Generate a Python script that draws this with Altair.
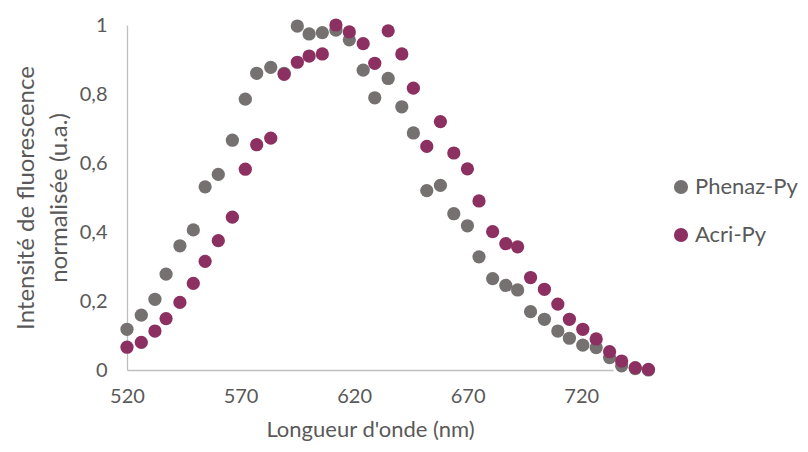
import altair as alt
import pandas as pd

wavelength = [520.0, 526.3, 532.3, 537.2, 543.3, 549.2, 554.4, 560.2, 566.4, 572.1,
              577.1, 583.3, 589.2, 595.0, 600.2, 606.0, 612.0, 617.9, 624.0, 629.1,
              635.0, 641.0, 646.1, 652.0, 658.0, 663.9, 669.9, 675.0, 681.0, 686.8,
              692.0, 697.7, 703.8, 709.7, 714.8, 720.7, 726.6, 732.5, 737.8, 743.8, 749.6]

phenaz_py = [0.118, 0.159, 0.205, 0.278, 0.360, 0.406, 0.531, 0.567, 0.666, 0.785,
             0.860, 0.877, 0.860, 0.997, 0.974, 0.978, 0.985, 0.957, 0.869, 0.789,
             0.845, 0.763, 0.687, 0.520, 0.535, 0.453, 0.418, 0.328, 0.265, 0.245,
             0.232, 0.169, 0.147, 0.113, 0.092, 0.072, 0.065, 0.036, 0.012, 0.004, 0.0]

acri_py = [0.066, 0.080, 0.113, 0.149, 0.196, 0.251, 0.315, 0.375, 0.443, 0.582,
           0.653, 0.672, 0.857, 0.892, 0.910, 0.916, 1.000, 0.980, 0.946, 0.889,
           0.983, 0.916, 0.817, 0.648, 0.720, 0.629, 0.583, 0.490, 0.401, 0.366,
           0.357, 0.268, 0.234, 0.191, 0.147, 0.118, 0.090, 0.053, 0.026, 0.007, 0.002]

series_names = ["Phenaz-Py", "Acri-Py"]
series_colors = ["#757171", "#8C3062"]
x_ticks = [520, 570, 620, 670, 720]
y_ticks = [0, 0.2, 0.4, 0.6, 0.8, 1]

rows = []
for w, v in zip(wavelength, phenaz_py):
    rows.append({"wl": w, "val": v, "serie": series_names[0], "ord": 0})
for w, v in zip(wavelength, acri_py):
    rows.append({"wl": w, "val": v, "serie": series_names[1], "ord": 1})
df = pd.DataFrame(rows)

FONT = "Lato"
GREY_TXT = "#595959"

chart = alt.Chart(df).mark_circle(size=175, opacity=1, clip=False).encode(
    x=alt.X("wl:Q",
            scale=alt.Scale(domain=[520, 734], nice=False, zero=False),
            axis=alt.Axis(values=x_ticks, title="Longueur d'onde (nm)", grid=False,
                          ticks=False, domainColor="#BFBFBF", domainWidth=1.3,
                          labelFontSize=20, labelColor=GREY_TXT, labelFont=FONT,
                          labelPadding=16, titleFontSize=22, titleFont=FONT,
                          titleColor=GREY_TXT, titleFontWeight="normal", titlePadding=13,
                          labelFlush=False)),
    y=alt.Y("val:Q",
            scale=alt.Scale(domain=[0, 1], nice=False),
            axis=alt.Axis(values=y_ticks, title=["Intensité de fluorescence", "normalisée (u.a.)"],
                          grid=False, ticks=False, domainColor="#BFBFBF", domainWidth=1.3,
                          labelExpr="datum.value == 1 ? '1' : replace(format(datum.value, '.1~f'), '.', ',')",
                          labelFontSize=20, labelColor=GREY_TXT, labelFont=FONT,
                          labelPadding=20, titleFontSize=24, titleFont=FONT,
                          titleColor=GREY_TXT, titleFontWeight="normal", titlePadding=8,
                          titleLineHeight=33)),
    color=alt.Color("serie:N",
                    scale=alt.Scale(domain=series_names, range=series_colors),
                    legend=alt.Legend(title=None, orient="none", legendX=543, legendY=151,
                                      symbolType="circle", symbolSize=200,
                                      labelFontSize=22, labelFont=FONT, labelColor=GREY_TXT,
                                      rowPadding=26, labelOffset=3, symbolStrokeWidth=0)),
    order=alt.Order("ord:Q"),
).properties(
    width=486, height=345,
    padding={"left": 119, "top": 17, "right": 187, "bottom": 74},
    autosize=alt.AutoSizeParams(type="none"),
).configure(background="white").configure_view(stroke=None)

chart.save("out.html", embed_options={"renderer": "svg", "actions": False})
